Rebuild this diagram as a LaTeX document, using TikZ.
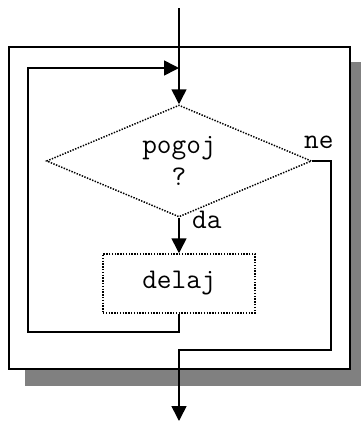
\documentclass[tikz,border=0pt]{standalone}
\usetikzlibrary{shapes.geometric,arrows.meta}
\begin{document}
\begin{tikzpicture}[x=1pt,y=1pt,
  flow/.style={line width=1.6pt,-{Triangle[length=15pt,width=15pt]}},
  dots/.style={line width=1.5pt,dash pattern=on 1.4pt off 1.4pt},
  txt/.style={font=\ttfamily\fontsize{28.5}{26}\selectfont,inner sep=0pt}]
\useasboundingbox (0,0) rectangle (361,-421);
% shadowed frame
\fill[black!50] (25,-62) rectangle (361,-386);
\draw[line width=1.6pt,fill=white] (9,-47) rectangle (350,-369);
% condition and body
\node[dots,draw,shape=diamond,inner sep=0pt,minimum width=265pt,minimum height=112pt,
  aspect=2.37,align=center,txt] (cond) at (179,-161) {pogoj\\[6pt]?};
\node[dots,draw,minimum width=152pt,minimum height=59pt,txt] (body) at (179,-283.5) {delaj};
\node[txt,anchor=base west] (ne) at (304,-148) {ne};
\node[txt,anchor=base west] (da) at (192,-228) {da};
% connector points
\coordinate (start) at (179,-8);
\coordinate (join) at (179,-68);
\coordinate (lb) at (28,-332);
\coordinate (r) at (331,-350);
\coordinate (exit) at (179,-421);
% connectors
\draw[flow] (start) -- (cond.north);
\draw[flow] (cond.south) -- (body.north);
\draw[flow] (body.south) |- (lb) |- (join);
\draw[flow] (cond.east) -| (r) -| (exit);
\end{tikzpicture}
\end{document}
